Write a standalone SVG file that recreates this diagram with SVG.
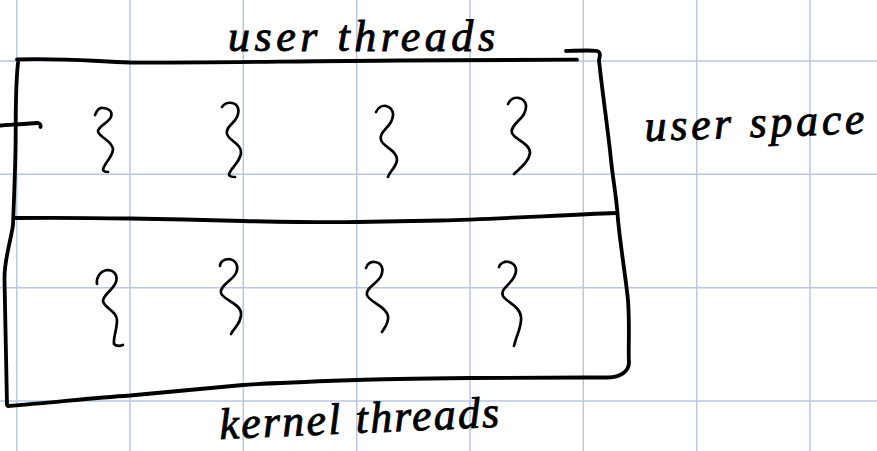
<svg xmlns="http://www.w3.org/2000/svg" width="877" height="451" viewBox="0 0 877 451">
  <style>
    .grid line { stroke: #b9c8df; stroke-width: 1.5; }
    .ink { fill: none; stroke: #000; stroke-linecap: round; stroke-linejoin: round; }
    .box { stroke-width: 3.8; }
    .thread { stroke-width: 2.7; }
    .label { font-family: "Liberation Serif", "DejaVu Serif", serif; font-style: italic; font-size: 44px; fill: #000; stroke: #000; stroke-width: 0.9; }
  </style>

  <rect width="877" height="451" fill="#ffffff"/>

  <!-- squared paper -->
  <g class="grid">
    <line x1="16.7" y1="0" x2="16.7" y2="451"/>
    <line x1="130" y1="0" x2="130" y2="451"/>
    <line x1="243.3" y1="0" x2="243.3" y2="451"/>
    <line x1="356.7" y1="0" x2="356.7" y2="451"/>
    <line x1="470" y1="0" x2="470" y2="451"/>
    <line x1="583.3" y1="0" x2="583.3" y2="451"/>
    <line x1="696.7" y1="0" x2="696.7" y2="451"/>
    <line x1="810" y1="0" x2="810" y2="451"/>
    <line x1="0" y1="61" x2="877" y2="61"/>
    <line x1="0" y1="174.3" x2="877" y2="174.3"/>
    <line x1="0" y1="287.7" x2="877" y2="287.7"/>
    <line x1="0" y1="401" x2="877" y2="401"/>
  </g>

  <!-- connectors: box outline and divider strokes -->
  <g id="connectors" class="ink box">
    <path d="M17,59.5 C60,58 90,61 130,62.5 C200,63 300,61 400,60.5 C480,60 540,59.5 577,59.7"/>
    <path d="M566,51 C580,50.5 592,50 597,51 C601,52 600,56 599,60 C602,90 608,130 611,160 C613,180 617,200 618,220 C621,250 626,280 628,300 C630,330 628,350 629,362 C629,372 620,377 608,377.5 C560,377.5 510,377.5 470,378 C420,378.5 380,379 357,380 C300,382 270,383 243,385 C200,389 160,393 130,395.5 C90,398 50,403 8,406"/>
    <path d="M18,63 C15,90 16,120 15.5,150 C15,175 14,200 13,225 C10,245 4,260 4.5,280 C5,320 6,360 7,405"/>
    <path d="M15,218 C60,217.5 100,218 130,218.5 C170,219 210,220 243,221 C290,222 330,222.5 357,222 C390,221.5 420,221 440,220.5 C500,219 560,215 617,213"/>
    <path d="M1,125.5 C15,124.5 28,123.5 38,123 C40,123.5 41,125 40.5,127"/>
  </g>

  <!-- user-space threads -->
  <g id="user-thread-1" class="ink thread">
    <path d="M95,115 C97,110 100,107 103,108 C108,108 113,111 111,117 C108,123 99,126 98,131 C98,137 112,140 113,149 C113,157 104,163 103,170 C104,172 107,172 108,172"/>
  </g>
  <g id="user-thread-2" class="ink thread">
    <path d="M222,107 C224,104 228,102 232,103 C238,104 240,110 237,117 C234,124 225,127 227,134 C229,141 242,144 241,153 C240,163 230,168 229,175 C230,177 233,177 235,177"/>
  </g>
  <g id="user-thread-3" class="ink thread">
    <path d="M376,112 C378,108 382,105 386,106 C393,108 395,114 391,122 C387,129 379,133 381,140 C383,147 397,150 397,160 C396,168 389,172 388,177"/>
  </g>
  <g id="user-thread-4" class="ink thread">
    <path d="M508,104 C510,100 514,97 519,98 C526,100 528,106 524,114 C520,121 510,126 512,133 C515,140 530,143 530,153 C529,162 520,168 514,174"/>
  </g>

  <!-- kernel-space threads -->
  <g id="kernel-thread-1" class="ink thread">
    <path d="M97,284 C96,278 100,271 107,270 C114,270 118,275 116,282 C113,290 103,295 103,301 C104,308 117,311 117,320 C117,330 113,338 114,344 C116,346 120,346 123,345"/>
  </g>
  <g id="kernel-thread-2" class="ink thread">
    <path d="M220,266 C220,262 224,259 229,259 C236,260 239,266 236,273 C232,281 219,286 221,293 C223,300 240,303 241,313 C242,322 234,328 231,334"/>
  </g>
  <g id="kernel-thread-3" class="ink thread">
    <path d="M366,268 C367,264 371,261 375,262 C382,263 384,269 381,276 C377,284 365,288 367,295 C369,302 386,306 388,316 C389,324 384,328 382,332"/>
  </g>
  <g id="kernel-thread-4" class="ink thread">
    <path d="M499,267 C500,263 505,261 509,262 C516,264 518,270 514,277 C510,285 500,289 503,296 C506,302 520,306 521,317 C522,327 516,336 514,346 L516,339"/>
  </g>

  <!-- labels -->
  <g id="label-user-threads">
    <text class="label" x="228" y="51" textLength="267" lengthAdjust="spacing">user threads</text>
  </g>
  <g id="label-user-space">
    <text class="label" x="645" y="141" textLength="220" lengthAdjust="spacing" transform="rotate(-2 645 141)">user space</text>
  </g>
  <g id="label-kernel-threads">
    <text class="label" x="220" y="439" textLength="280" lengthAdjust="spacing" transform="rotate(-2.5 220 439)">kernel threads</text>
  </g>
</svg>
